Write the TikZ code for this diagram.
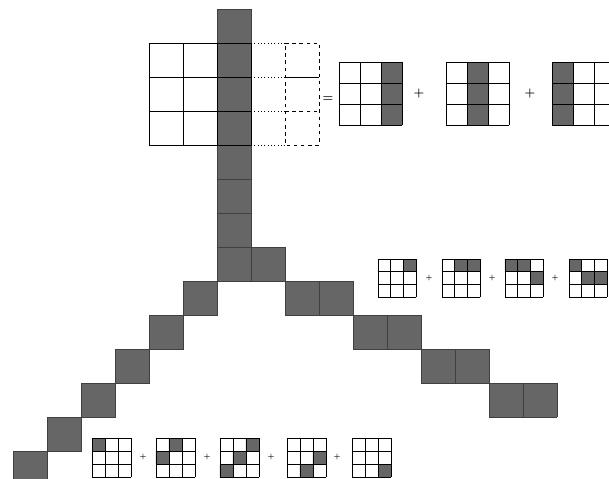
\documentclass[tikz,border=0pt]{standalone}
\begin{document}
\begin{tikzpicture}[
    x=1cm, y=-1cm,
    shd/.style={fill=black!60},
    cell/.style={draw=black!75,line width=.5pt},
    big/.style={line width=.8pt},
    small/.style={line width=.55pt},
    every node/.style={inner sep=0pt,font=\boldmath}]
    \useasboundingbox (-6.382,-7.265) rectangle (11.529,6.794);

    % the strip running down and the two arms
    \fill[shd] (0,-7) rectangle (1,0);
    \draw[cell] (0,-7) grid (1,0);
    \fill[shd] (0,0) rectangle (2,1);
    \draw[cell] (0,0) grid (2,1);
    \fill[shd] (-1,1) rectangle (0,2);
    \fill[shd] (-2,2) rectangle (-1,3);
    \fill[shd] (-3,3) rectangle (-2,4);
    \fill[shd] (-4,4) rectangle (-3,5);
    \fill[shd] (-5,5) rectangle (-4,6);
    \fill[shd] (-6,6) rectangle (-5,7);
    \draw[cell] (-1,1) rectangle (0,2) (-2,2) rectangle (-1,3)
        (-3,3) rectangle (-2,4) (-4,4) rectangle (-3,5)
        (-5,5) rectangle (-4,6) (-6,6) rectangle (-5,7);
    \fill[shd] (2,1) rectangle (4,2);
    \fill[shd] (4,2) rectangle (6,3);
    \fill[shd] (6,3) rectangle (8,4);
    \fill[shd] (8,4) rectangle (10,5);
    \draw[cell] (2,1) grid (4,2) (4,2) grid (6,3)
        (6,3) grid (8,4) (8,4) grid (10,5);

    % the 3x3 window on the strip
    \draw[big] (-2,-6) grid (1,-3);
    \draw[big,dotted] (1,-6) -- (2,-6) (1,-5) -- (2,-5)
        (1,-4) -- (2,-4) (1,-3) -- (2,-3);
    \draw[big,dashed] (2,-6) -- (3,-6) -- (3,-3) -- (2,-3) -- cycle
        (2,-4) -- (3,-4);
    \draw[big] (2,-5) -- (3,-5);

    \node (eq) at (3.26,-4.35) {$=$};
    \begin{scope}[shift={(3.59,-5.44)},scale=.62,small]
        \fill[shd] (2,0) rectangle (3,3);
        \draw (0,0) grid (3,3);
    \end{scope}
    \node (pa) at (5.94,-4.5) {$+$};
    \begin{scope}[shift={(6.735,-5.44)},scale=.62,small]
        \fill[shd] (1,0) rectangle (2,3);
        \draw (0,0) grid (3,3);
    \end{scope}
    \node (pb) at (9.206,-4.5) {$+$};
    \begin{scope}[shift={(9.853,-5.44)},scale=.62,small]
        \fill[shd] (0,0) rectangle (1,3);
        \draw (0,0) grid (3,3);
    \end{scope}

    % right arm pieces
    \begin{scope}[shift={(4.735,.353)},scale=.375,small]
        \fill[shd] (2,0) rectangle (3,1);
        \draw (0,0) grid (3,3);
    \end{scope}
    \node[font=\tiny\boldmath] (pc) at (6.235,.91) {$+$};
    \begin{scope}[shift={(6.618,.353)},scale=.375,small]
        \fill[shd] (1,0) rectangle (3,1);
        \draw (0,0) grid (3,3);
    \end{scope}
    \node[font=\tiny\boldmath] (pd) at (8.088,.91) {$+$};
    \begin{scope}[shift={(8.47,.353)},scale=.375,small]
        \fill[shd] (0,0) rectangle (2,1) (2,1) rectangle (3,2);
        \draw (0,0) grid (3,3);
    \end{scope}
    \node[font=\tiny\boldmath] (pe) at (9.94,.91) {$+$};
    \begin{scope}[shift={(10.353,.353)},scale=.375,small]
        \fill[shd] (0,0) rectangle (1,1) (1,1) rectangle (3,2);
        \draw (0,0) grid (3,3);
    \end{scope}

    % left arm pieces
    \begin{scope}[shift={(-3.676,5.618)},scale=.382,small]
        \fill[shd] (0,0) rectangle (1,1);
        \draw (0,0) grid (3,3);
    \end{scope}
    \node[font=\tiny\boldmath] (pf) at (-2.176,6.176) {$+$};
    \begin{scope}[shift={(-1.794,5.618)},scale=.382,small]
        \fill[shd] (1,0) rectangle (2,1) (0,1) rectangle (1,2);
        \draw (0,0) grid (3,3);
    \end{scope}
    \node[font=\tiny\boldmath] (pg) at (-.294,6.176) {$+$};
    \begin{scope}[shift={(.088,5.618)},scale=.382,small]
        \fill[shd] (2,0) rectangle (3,1) (1,1) rectangle (2,2)
            (0,2) rectangle (1,3);
        \draw (0,0) grid (3,3);
    \end{scope}
    \node[font=\tiny\boldmath] (ph) at (1.588,6.176) {$+$};
    \begin{scope}[shift={(2.059,5.618)},scale=.382,small]
        \fill[shd] (2,1) rectangle (3,2) (1,2) rectangle (2,3);
        \draw (0,0) grid (3,3);
    \end{scope}
    \node[font=\tiny\boldmath] (pi) at (3.53,6.176) {$+$};
    \begin{scope}[shift={(3.97,5.618)},scale=.382,small]
        \fill[shd] (2,2) rectangle (3,3);
        \draw (0,0) grid (3,3);
    \end{scope}
\end{tikzpicture}
\end{document}
